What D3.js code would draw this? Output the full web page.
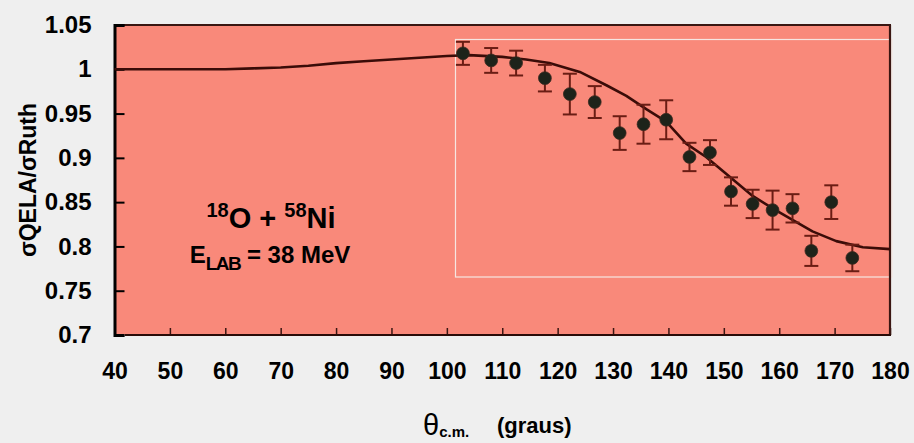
<!DOCTYPE html>
<html>
<head>
<meta charset="utf-8">
<script src="https://cdn.jsdelivr.net/npm/d3@7/dist/d3.min.js"></script>
<style>
  html, body { margin: 0; padding: 0; background: #efefef; }
  svg { display: block; }
  text { font-family: "Liberation Sans", Arial, sans-serif; }
</style>
</head>
<body>
<svg id="chart" width="914" height="443"></svg>
<script>
// ---- data ----
const xTicks = [40, 50, 60, 70, 80, 90, 100, 110, 120, 130, 140, 150, 160, 170, 180];
const xTickLabels = ["40","50","60","70","80","90","100","110","120","130","140","150","160","170","180"];
const yTicks = [0.7, 0.75, 0.8, 0.85, 0.9, 0.95, 1.0, 1.05];
const yTickLabels = ["0.7","0.75","0.8","0.85","0.9","0.95","1","1.05"];

// measured points (theta c.m., ratio, error)
const dataTheta = [102.9, 108.0, 112.5, 117.7, 122.2, 126.7, 131.2, 135.5, 139.6, 143.8, 147.5, 151.3, 155.2, 158.8, 162.4, 165.8, 169.4, 173.2];
const dataRatio = [1.018, 1.010, 1.007, 0.990, 0.972, 0.963, 0.928, 0.938, 0.943, 0.901, 0.906, 0.862, 0.848, 0.841, 0.843, 0.795, 0.850, 0.787];
const dataErr   = [0.013, 0.014, 0.014, 0.015, 0.023, 0.018, 0.019, 0.022, 0.022, 0.016, 0.014, 0.016, 0.016, 0.022, 0.016, 0.017, 0.019, 0.015];

// calculated curve
const curveTheta = [40, 60, 65, 70, 75, 80, 85, 90, 95, 100, 104, 110, 114.3, 118.5, 124, 128.8, 132.4, 136, 139.6, 143.2, 146.8, 151, 155.2, 158.8, 162.4, 166, 170.3, 175.1, 180];
const curveRatio = [1.000, 1.000, 1.001, 1.002, 1.004, 1.007, 1.009, 1.011, 1.013, 1.015, 1.016, 1.014, 1.011, 1.007, 0.997, 0.982, 0.970, 0.955, 0.941, 0.916, 0.901, 0.879, 0.857, 0.843, 0.830, 0.817, 0.806, 0.799, 0.797];

// ---- layout ----
const svg = d3.select("#chart");
const x = d3.scaleLinear().domain([40, 180]).range([114.5, 890]);
const y = d3.scaleLinear().domain([0.7, 1.05]).range([335, 25]);

const salmon = "#f9897a";

// plot background
svg.append("rect")
  .attr("x", x(40)).attr("y", y(1.05))
  .attr("width", x(180) - x(40)).attr("height", y(0.7) - y(1.05))
  .attr("fill", salmon);

// inset white box
svg.append("rect")
  .attr("x", 455.5).attr("y", 39.5)
  .attr("width", 892 - 455.5).attr("height", 277 - 39.5)
  .attr("fill", "none")
  .attr("stroke", "#f6e6e2").attr("stroke-width", 1.2);

// top & right frame
svg.append("line")
  .attr("x1", x(40)).attr("x2", x(180) + 1)
  .attr("y1", y(1.05)).attr("y2", y(1.05))
  .attr("stroke", "#3a1612").attr("stroke-width", 2.2);
svg.append("line")
  .attr("x1", x(180)).attr("x2", x(180))
  .attr("y1", y(1.05)).attr("y2", y(0.7))
  .attr("stroke", "#3a1612").attr("stroke-width", 2.2);

// bottom axis
const xAxis = d3.axisBottom(x)
  .tickValues(xTicks)
  .tickFormat((d, i) => xTickLabels[i])
  .tickSizeInner(-7).tickSizeOuter(0).tickPadding(28);
const gx = svg.append("g").attr("transform", `translate(0,${y(0.7)})`).call(xAxis);
gx.select(".domain").remove();
gx.append("line")
  .attr("x1", 125).attr("x2", x(180) + 1).attr("y1", 0).attr("y2", 0)
  .attr("stroke", "#2a0c08").attr("stroke-width", 2.2);
gx.selectAll(".tick line").attr("stroke", "#3a1612").attr("stroke-width", 1.5);
gx.selectAll(".tick text")
  .attr("fill", "#000")
  .style("font-size", "23px").style("font-weight", "bold");

// left axis
const yAxis = d3.axisLeft(y)
  .tickValues(yTicks)
  .tickFormat((d, i) => yTickLabels[i])
  .tickSizeInner(-10).tickSizeOuter(-10).tickPadding(23);
const gy = svg.append("g").attr("transform", `translate(${x(40)},0)`).call(yAxis);
gy.select(".domain").attr("stroke", "#000").attr("stroke-width", 3);
gy.selectAll(".tick line").attr("stroke", "#000").attr("stroke-width", 2);
gy.selectAll(".tick text")
  .attr("fill", "#000")
  .style("font-size", "24px").style("font-weight", "bold");

// calculated curve
const line = d3.line()
  .x((d, i) => x(curveTheta[i]))
  .y((d, i) => y(curveRatio[i]));
svg.append("path")
  .datum(curveTheta)
  .attr("d", line)
  .attr("fill", "none")
  .attr("stroke", "#3a0c08")
  .attr("stroke-width", 2.6)
  .attr("stroke-linejoin", "round");

// error bars
const pts = dataTheta.map((t, i) => ({ t, r: dataRatio[i], e: dataErr[i] }));
const eb = svg.append("g").attr("stroke", "#6a1d14").attr("stroke-width", 2);
eb.selectAll("line.v").data(pts).join("line").attr("class", "v")
  .attr("x1", d => x(d.t)).attr("x2", d => x(d.t))
  .attr("y1", d => y(d.r + d.e)).attr("y2", d => y(d.r - d.e));
eb.selectAll("line.t").data(pts).join("line").attr("class", "t")
  .attr("x1", d => x(d.t) - 7).attr("x2", d => x(d.t) + 7)
  .attr("y1", d => y(d.r + d.e)).attr("y2", d => y(d.r + d.e));
eb.selectAll("line.b").data(pts).join("line").attr("class", "b")
  .attr("x1", d => x(d.t) - 7).attr("x2", d => x(d.t) + 7)
  .attr("y1", d => y(d.r - d.e)).attr("y2", d => y(d.r - d.e));

// markers
svg.append("g").selectAll("circle").data(pts).join("circle")
  .attr("cx", d => x(d.t)).attr("cy", d => y(d.r))
  .attr("r", 6.4)
  .attr("fill", "#1d231a")
  .attr("stroke", "#3a2a20").attr("stroke-width", 0.8);

// annotation: 18O + 58Ni
const a1 = svg.append("text")
  .attr("x", 271).attr("y", 228)
  .attr("text-anchor", "middle")
  .style("font-weight", "bold").attr("fill", "#000");
a1.append("tspan").text("18").style("font-size", "20px").attr("dy", -11);
a1.append("tspan").text("O + ").style("font-size", "29px").attr("dy", 11);
a1.append("tspan").text("58").style("font-size", "20px").attr("dy", -11);
a1.append("tspan").text("Ni").style("font-size", "29px").attr("dy", 11);

// annotation: E_LAB = 38 MeV
const a2 = svg.append("text")
  .attr("x", 270).attr("y", 263)
  .attr("text-anchor", "middle")
  .style("font-weight", "bold").attr("fill", "#000");
a2.append("tspan").text("E").style("font-size", "24px");
a2.append("tspan").text("LAB").style("font-size", "19px").style("letter-spacing", "-1.5px").attr("dy", 7);
a2.append("tspan").text(" = 38 MeV").style("font-size", "24px").attr("dy", -7);

// y axis title
svg.append("text")
  .attr("transform", "translate(36,180) rotate(-90)")
  .attr("text-anchor", "middle")
  .style("font-size", "24px").style("font-weight", "bold")
  .attr("textLength", 154).attr("lengthAdjust", "spacingAndGlyphs")
  .attr("fill", "#000")
  .text("σQELA/σRuth");

// x axis title
const xt = svg.append("text")
  .attr("x", 423).attr("y", 435)
  .attr("fill", "#000");
xt.append("tspan").text("θ").style("font-size", "29px");
xt.append("tspan").text("c.m.").style("font-size", "15px").style("font-weight", "bold").attr("dy", 2);
xt.append("tspan").text("(graus)").style("font-size", "22px").style("font-weight", "bold").attr("dy", -4).attr("x", 497);
</script>
</body>
</html>
